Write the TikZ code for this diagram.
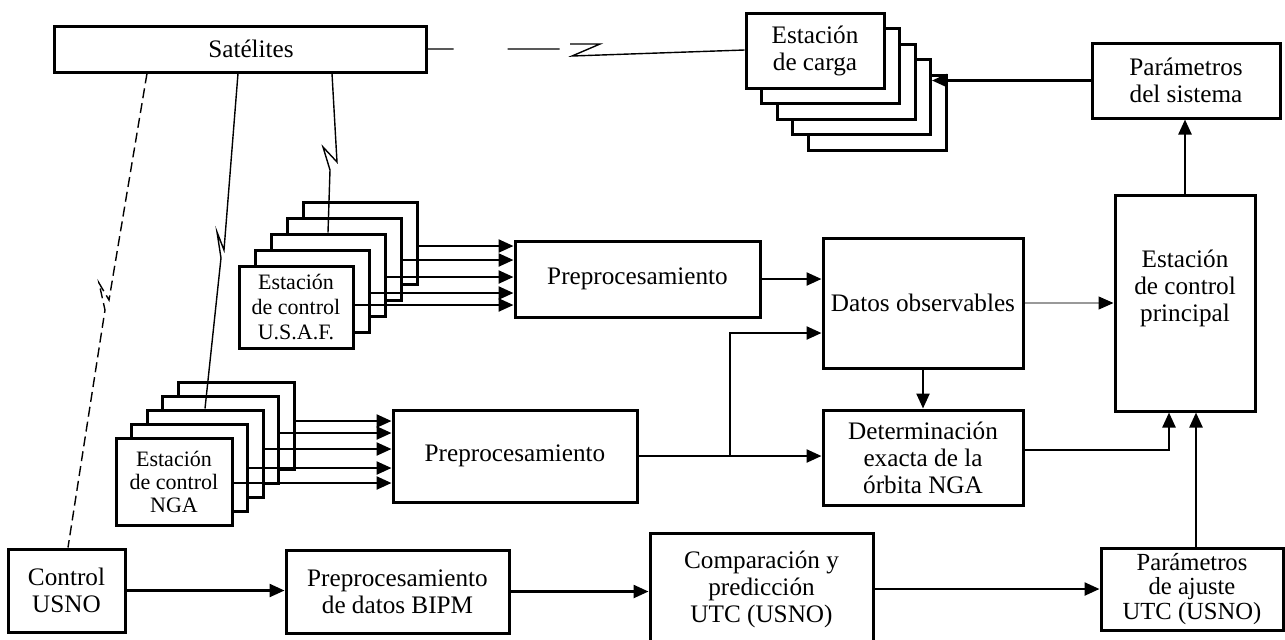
\documentclass[tikz,border=0pt]{standalone}
\usepackage{fontspec}
\setmainfont{Liberation Serif}
\usetikzlibrary{arrows.meta}

\tikzset{
  box/.style={draw, line width=1.5pt, fill=white, align=center, inner sep=1pt,
    font=\fontsize{12.6}{13.5}\selectfont},
  cargabox/.style={box, minimum width=69pt, minimum height=37.5pt},
  usafbox/.style={box, minimum width=57pt, minimum height=41pt, font=\fontsize{11}{12.5}\selectfont},
  ngabox/.style={box, minimum width=58pt, minimum height=43.5pt, font=\fontsize{11}{11.5}\selectfont},
  arr/.style={-{Triangle[length=7.5pt,width=6.5pt]}, line width=1.2pt},
  link/.style={line width=0.7pt},
}

\begin{document}
\begin{tikzpicture}[x=0.5pt, y=-0.5pt]
	\useasboundingbox (0,0) rectangle (1285,639);

	%The satellites
	\node[box, minimum width=186pt, minimum height=23pt] (sat) at (240,49) {\hspace*{11pt}Satélites};

	%Stack of upload stations
	\foreach \i in {4,...,1}
		\node[cargabox] (carga\i) at ({815+15.5*\i},{50.5+15.5*\i}) {};
	\node[cargabox] (carga0) at (815,50.5) {Estación\\de carga};
	\node[box, minimum width=94pt, minimum height=37.5pt] (param) at (1186,80.5) {Parámetros\\del sistema};

	%U.S.A.F. stations
	\foreach \i in {4,...,1}
		\node[usafbox] (usaf\i) at ({296+16*\i},{307-16*\i}) {};
	\node[usafbox] (usaf0) at (296,307) {Estación\\de control\\U.S.A.F.};
	\node[box, minimum width=122.5pt, minimum height=38pt] (pre1) at (637.5,279) {Preprocesamiento};
	\node[box, minimum width=100pt, minimum height=65pt] (datos) at (923,303) {Datos observables};
	\node[box, minimum width=70pt, minimum height=108pt, text depth=17pt] (ecp) at (1185,303) {Estación\\de control\\principal};

	%NGA stations
	\foreach \i in {4,...,1}
		\node[ngabox] (nga\i) at ({174+15.5*\i},{481.5-14*\i}) {};
	\node[ngabox] (nga0) at (174,481.5) {Estación\\de control\\NGA};
	\node[box, minimum width=122pt, minimum height=46pt] (pre2) at (515,456) {Preprocesamiento};
	\node[box, minimum width=100pt, minimum height=47.5pt] (det) at (923,457.5) {Determinación\\exacta de la\\órbita NGA};

	%Bottom row
	\node[box, minimum width=58.5pt, minimum height=41.5pt] (usno) at (66.5,590.5) {Control\\USNO};
	\node[box, minimum width=111.5pt, minimum height=41.5pt] (bipm) at (397.5,591.5) {Preprocesamiento\\de datos BIPM};
	\node[box, minimum width=111.5pt, minimum height=56pt] (comp) at (761.5,589) {Comparación y\\predicción\\UTC (USNO)};
	\node[box, minimum width=91pt, minimum height=41pt, font=\fontsize{12.3}{12.2}\selectfont] (ajuste) at (1192,589) {Parámetros\\de ajuste\\UTC (USNO)};

	%Stations to preprocessing
	\foreach \i/\y in {0/305,1/293,2/277,3/260,4/246}
		\draw[arr] (usaf\i.east |- 0,\y) -- (pre1.west |- 0,\y);
	\foreach \i/\y in {0/483,1/468,2/449,3/433,4/421}
		\draw[arr] (nga\i.east |- 0,\y) -- (pre2.west |- 0,\y);

	\draw[arr] (pre1.east) -- (pre1.east -| datos.west);
	\draw[arr] (pre2.east) -- (pre2.east -| det.west);
	\draw[arr] (pre2.east -| 730,0) |- (datos.west |- 0,333);
	\draw[arr] (datos.south) -- (det.north);
	\draw[line width=0.6pt, black!40, -{Triangle[length=7.5pt,width=6.5pt,black]}] (datos.east) -- (ecp.west);
	\draw[arr] (det.east |- 0,450) -| ([xshift=-8pt]ecp.south);
	\draw[arr] ([xshift=2pt]ajuste.north) -- ([xshift=2pt]ajuste.north |- ecp.south);
	\draw[arr] (ecp.north) -- (ecp.north |- param.south);
	\draw[arr] (param.west) -- (param.west -| carga3.east);

	\draw[arr] (usno.east) -- (usno.east -| bipm.west);
	\draw[arr] (bipm.east) -- (bipm.east -| comp.west);
	\draw[arr] (comp.east) -- (comp.east -| ajuste.west);

	%Radio links from the satellites
	\draw[link, dash pattern=on 5pt off 2.5pt] (sat.south -| 147,0) -- (109,300) -- (99,283) -- (105,310) -- (usno.north -| 68,0);
	\draw[link] (sat.south -| 238,0) -- (224,250) -- (217,232) -- (221,258) -- (nga2.north);
	\draw[link] (sat.south -| 332,0) -- (337,162) -- (323,147) -- (330,170) -- (usaf2.north);
	\draw[link] (sat.east |- 0,49) -- ++(26,0) ++(54,0) -- ++(52,0) (570,44) -- (600,44) -- (572,56) -- (carga0.west |- 0,50);

\end{tikzpicture}
\end{document}
